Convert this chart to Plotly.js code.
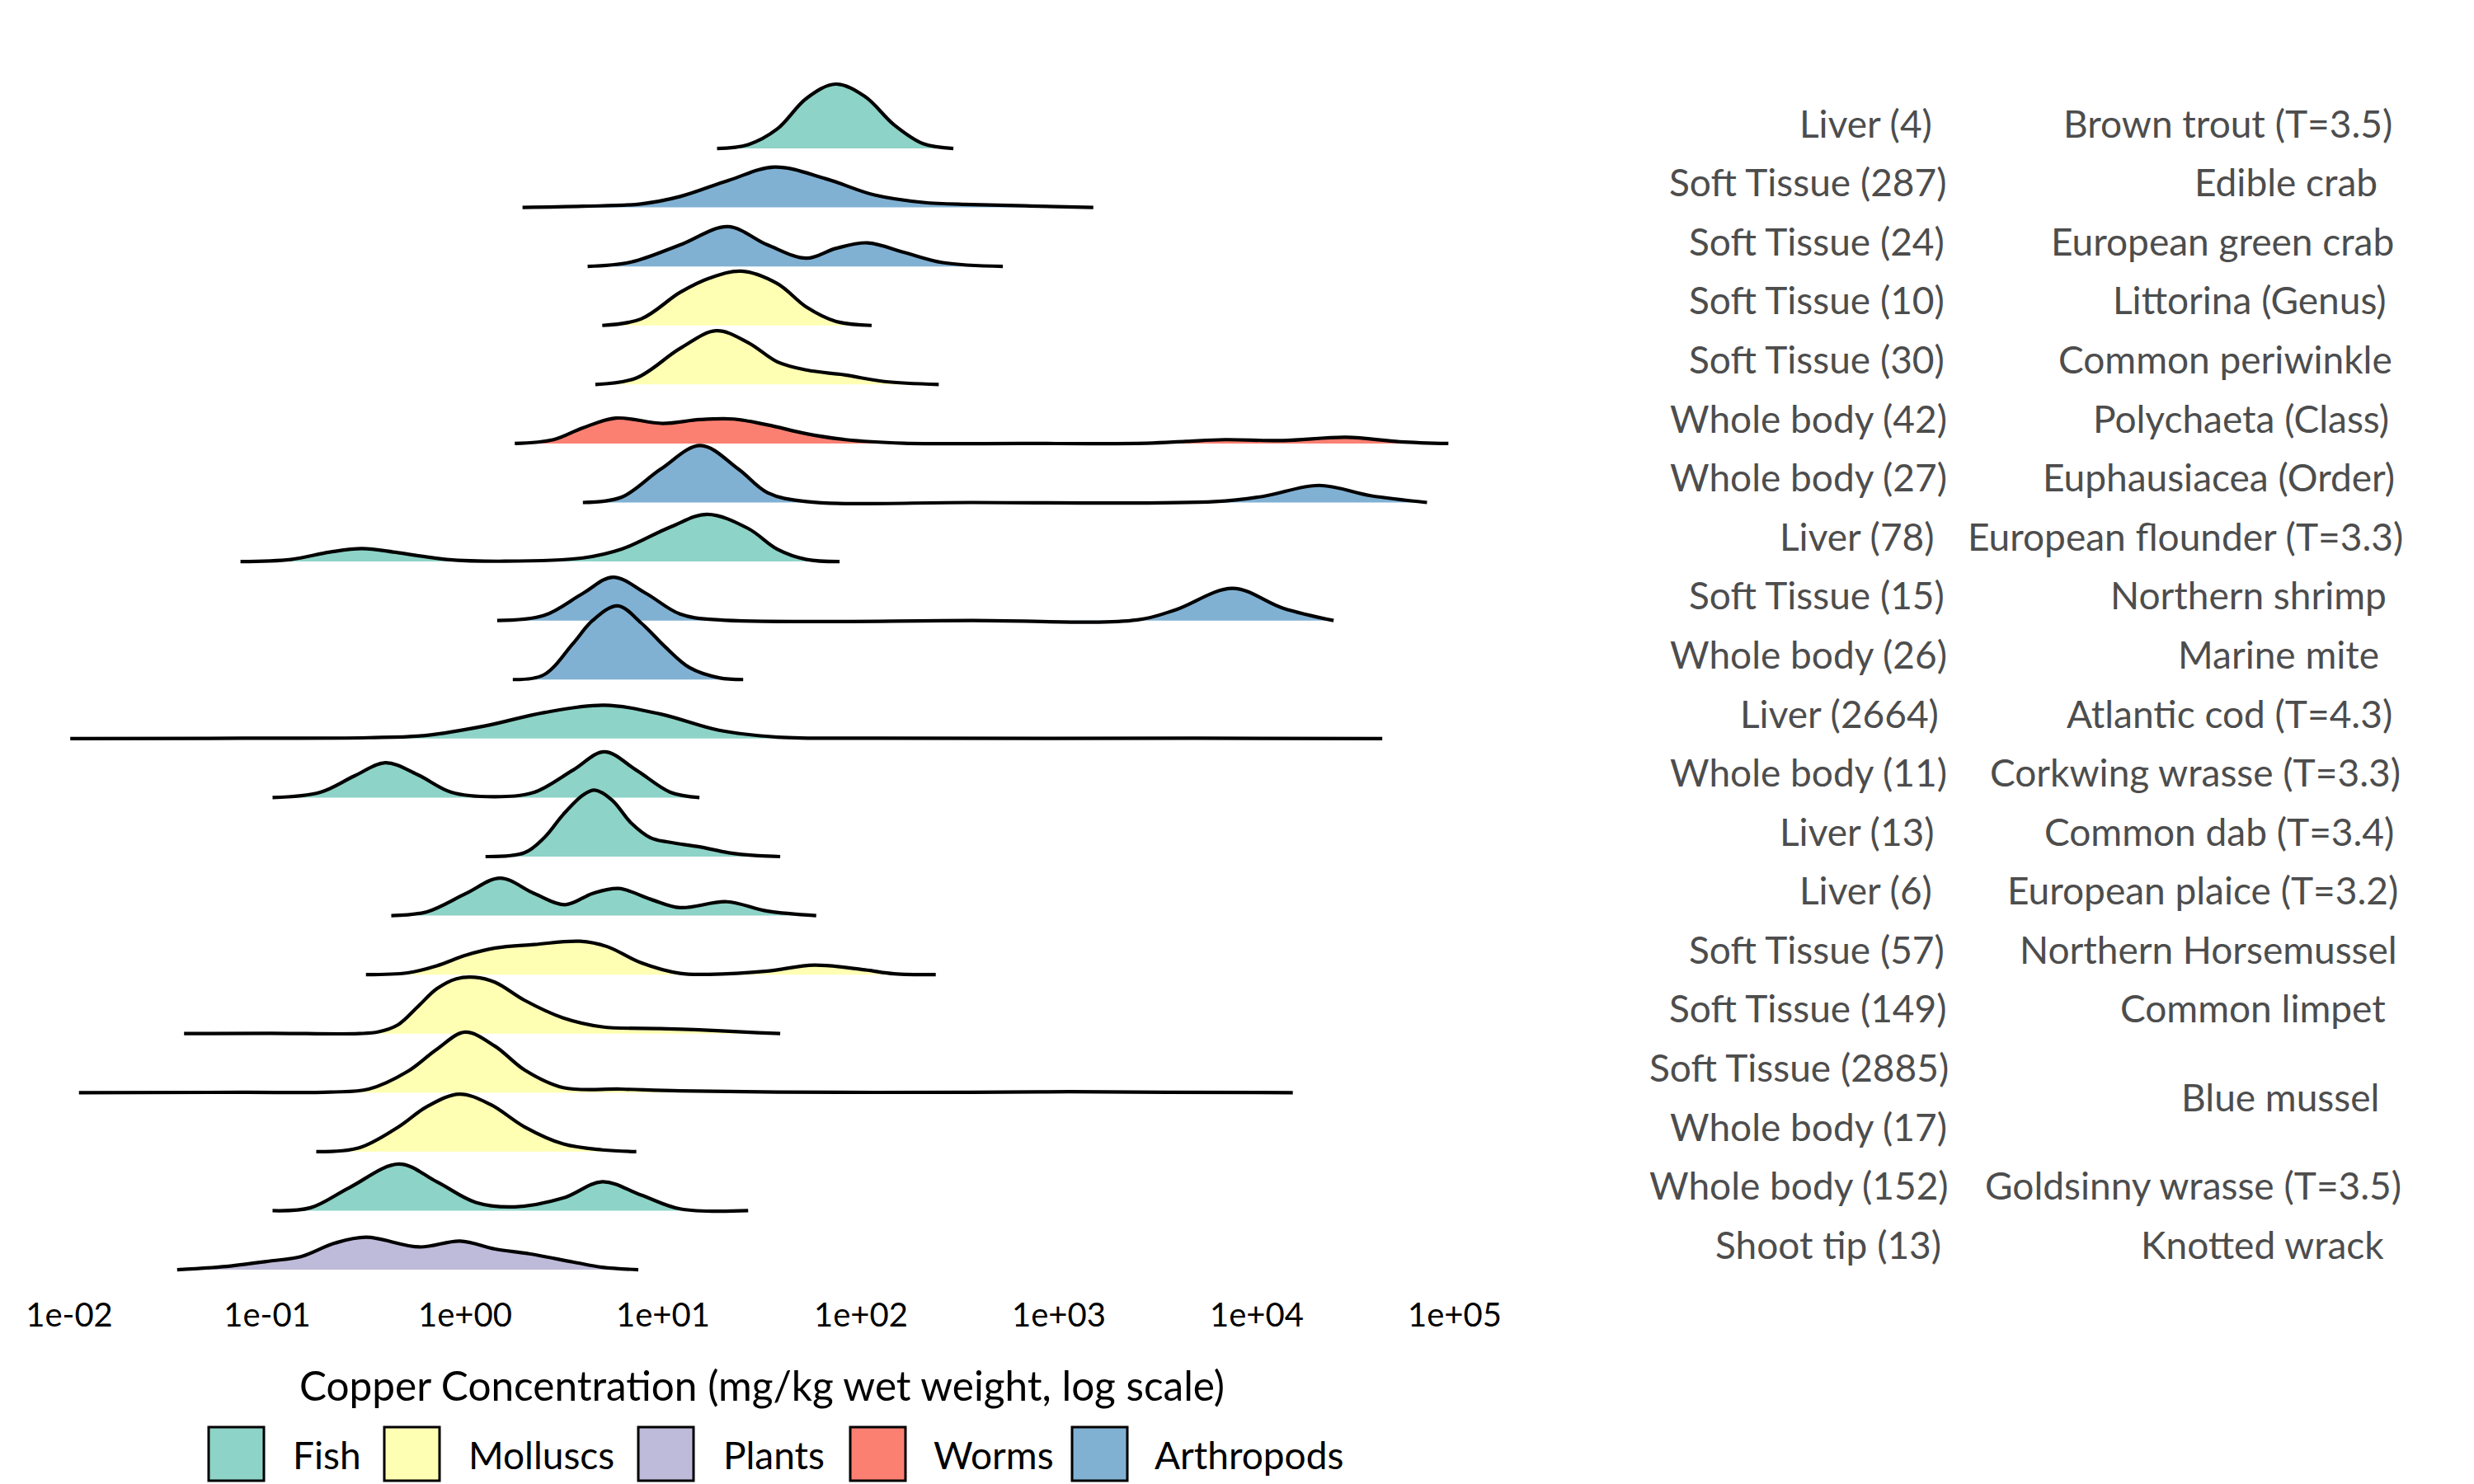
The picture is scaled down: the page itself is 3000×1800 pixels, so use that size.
<!DOCTYPE html>
<html><head><meta charset="utf-8">
<script src="https://cdn.plot.ly/plotly-3.0.1.min.js"></script>
<style>html,body{margin:0;padding:0;background:#fff;} #chart{width:3000px;height:1800px;}</style>
</head><body><div id="chart"></div>
<script>
// ---- categories ----
const groupNames = ["Fish", "Molluscs", "Plants", "Worms", "Arthropods"];
const groupColors = ["#8DD3C7", "#FFFFB3", "#BEBADA", "#FB8072", "#80B1D3"];

// rows, top to bottom
const tissueLabels = ["Liver (4)", "Soft Tissue (287)", "Soft Tissue (24)", "Soft Tissue (10)", "Soft Tissue (30)",
  "Whole body (42)", "Whole body (27)", "Liver (78)", "Soft Tissue (15)", "Whole body (26)",
  "Liver (2664)", "Whole body (11)", "Liver (13)", "Liver (6)", "Soft Tissue (57)",
  "Soft Tissue (149)", "Soft Tissue (2885)", "Whole body (17)", "Whole body (152)", "Shoot tip (13)"];
const speciesLabels = ["Brown trout (T=3.5)", "Edible crab", "European green crab", "Littorina (Genus)", "Common periwinkle",
  "Polychaeta (Class)", "Euphausiacea (Order)", "European flounder (T=3.3)", "Northern shrimp", "Marine mite",
  "Atlantic cod (T=4.3)", "Corkwing wrasse (T=3.3)", "Common dab (T=3.4)", "European plaice (T=3.2)", "Northern Horsemussel",
  "Common limpet", "Blue mussel", "Blue mussel", "Goldsinny wrasse (T=3.5)", "Knotted wrack"];
const rowGroups = ["Fish", "Arthropods", "Arthropods", "Molluscs", "Molluscs",
  "Worms", "Arthropods", "Fish", "Arthropods", "Arthropods",
  "Fish", "Fish", "Fish", "Fish", "Molluscs",
  "Molluscs", "Molluscs", "Molluscs", "Fish", "Plants"];

// ---- density curves: log10(copper mg/kg) and relative density (row-height units) ----
const brownTroutLog = [1.273, 1.430, 1.577, 1.725, 1.872, 2.020, 2.167, 2.314, 2.467];
const brownTroutDen = [0, 0.065, 0.33, 0.85, 1.09, 0.88, 0.40, 0.08, 0];

const edibleCrabLog = [0.290, 0.595, 0.889, 1.086, 1.332, 1.563, 1.823, 2.069, 2.314, 2.560, 2.855, 3.174];
const edibleCrabDen = [0, 0.02, 0.06, 0.185, 0.46, 0.685, 0.485, 0.21, 0.085, 0.05, 0.025, 0];

const greenCrabLog = [0.619, 0.840, 1.086, 1.327, 1.528, 1.725, 1.872, 2.034, 2.216, 2.413, 2.717];
const greenCrabDen = [0, 0.075, 0.365, 0.674, 0.365, 0.14, 0.305, 0.40, 0.24, 0.065, 0];

const littorinaLog = [0.693, 0.889, 1.086, 1.233, 1.396, 1.577, 1.725, 1.872, 2.054];
const littorinaDen = [0, 0.11, 0.56, 0.80, 0.92, 0.71, 0.31, 0.07, 0];

const periwinkleLog = [0.658, 0.865, 1.086, 1.268, 1.430, 1.577, 1.725, 1.921, 2.118, 2.393];
const periwinkleDen = [0, 0.11, 0.61, 0.91, 0.71, 0.385, 0.245, 0.16, 0.05, 0];

const polychaetaLog = [0.251, 0.447, 0.595, 0.762, 0.998, 1.184, 1.356, 1.528, 1.725, 1.921, 2.216, 2.806, 3.445, 3.641, 3.838, 4.133, 4.452, 4.722, 4.968];
const polychaetaDen = [0, 0.065, 0.265, 0.43, 0.34, 0.405, 0.415, 0.315, 0.165, 0.065, 0.005, 0, 0.005, 0.035, 0.065, 0.05, 0.105, 0.03, 0];

const euphausiaceaLog = [0.595, 0.791, 0.988, 1.189, 1.381, 1.528, 1.725, 2.560, 3.789, 4.034, 4.314, 4.575, 4.860];
const euphausiaceaDen = [0, 0.09, 0.565, 0.965, 0.565, 0.165, 0.015, 0, 0.015, 0.105, 0.29, 0.115, 0];

const flounderLog = [-1.135, -0.880, -0.683, -0.521, -0.339, -0.093, 0.201, 0.595, 0.791, 1.037, 1.224, 1.430, 1.577, 1.725, 1.892];
const flounderDen = [0, 0.035, 0.16, 0.22, 0.15, 0.035, 0.005, 0.06, 0.21, 0.585, 0.80, 0.56, 0.21, 0.035, 0];

const shrimpLog = [0.162, 0.398, 0.595, 0.747, 0.914, 1.086, 1.283, 2.560, 3.396, 3.592, 3.877, 4.133, 4.388];
const shrimpDen = [0, 0.085, 0.46, 0.735, 0.46, 0.11, 0.01, 0, 0.01, 0.185, 0.545, 0.21, 0];

const marineMiteLog = [0.241, 0.398, 0.545, 0.644, 0.771, 0.889, 1.012, 1.135, 1.283, 1.405];
const marineMiteDen = [0, 0.08, 0.61, 1.0, 1.248, 0.96, 0.55, 0.2, 0.03, 0];

const codLog = [-1.995, -1.125, -0.486, -0.192, 0.103, 0.398, 0.703, 0.988, 1.283, 1.577, 2.069, 3.690, 4.634];
const codDen = [0, 0.005, 0.015, 0.055, 0.215, 0.44, 0.565, 0.415, 0.14, 0.025, 0.005, 0.005, 0];

const corkwingLog = [-0.973, -0.732, -0.560, -0.403, -0.241, -0.069, 0.152, 0.349, 0.545, 0.703, 0.865, 1.037, 1.184];
const corkwingDen = [0, 0.09, 0.365, 0.59, 0.39, 0.09, 0.015, 0.09, 0.465, 0.775, 0.465, 0.09, 0];

const dabLog = [0.103, 0.300, 0.398, 0.496, 0.595, 0.654, 0.742, 0.840, 0.939, 1.037, 1.184, 1.332, 1.479, 1.592];
const dabDen = [0, 0.065, 0.315, 0.715, 1.04, 1.125, 0.96, 0.565, 0.315, 0.24, 0.165, 0.065, 0.015, 0];

const plaiceLog = [-0.373, -0.192, 0.005, 0.177, 0.349, 0.506, 0.644, 0.776, 0.939, 1.086, 1.322, 1.528, 1.774];
const plaiceDen = [0, 0.065, 0.375, 0.635, 0.375, 0.185, 0.375, 0.46, 0.275, 0.135, 0.235, 0.075, 0];

const horsemusselLog = [-0.501, -0.290, -0.143, 0.005, 0.152, 0.349, 0.580, 0.717, 0.889, 1.086, 1.233, 1.528, 1.764, 2.020, 2.167, 2.378];
const horsemusselDen = [0, 0.03, 0.15, 0.33, 0.45, 0.51, 0.565, 0.475, 0.2, 0.02, 0.005, 0.06, 0.16, 0.08, 0.015, 0];

const limpetLog = [-1.420, -0.978, -0.536, -0.437, -0.339, -0.241, -0.143, -0.044, 0.049, 0.152, 0.300, 0.496, 0.693, 0.988, 1.184, 1.479, 1.592];
const limpetDen = [0, 0.005, 0, 0.03, 0.15, 0.45, 0.76, 0.93, 0.955, 0.87, 0.565, 0.265, 0.115, 0.085, 0.065, 0.015, 0];

const musselSoftLog = [-1.951, -1.125, -0.683, -0.487, -0.290, -0.143, 0.0, 0.152, 0.300, 0.496, 0.791, 1.086, 1.577, 2.560, 3.052, 3.543, 4.182];
const musselSoftDen = [0, 0.005, 0.01, 0.06, 0.36, 0.735, 1.025, 0.785, 0.385, 0.085, 0.06, 0.03, 0.01, 0.005, 0.015, 0.005, 0];

const musselWholeLog = [-0.752, -0.536, -0.339, -0.192, -0.029, 0.128, 0.300, 0.496, 0.693, 0.865];
const musselWholeDen = [0, 0.065, 0.415, 0.765, 0.975, 0.80, 0.42, 0.13, 0.03, 0];

const goldsinnyLog = [-0.973, -0.781, -0.585, -0.334, -0.143, 0.054, 0.251, 0.496, 0.693, 0.889, 1.086, 1.430];
const goldsinnyDen = [0, 0.05, 0.39, 0.79, 0.49, 0.14, 0.065, 0.215, 0.49, 0.265, 0.03, 0];

const wrackLog = [-1.455, -1.224, -0.978, -0.830, -0.658, -0.501, -0.231, -0.025, 0.152, 0.324, 0.545, 0.693, 0.875];
const wrackDen = [0, 0.05, 0.15, 0.22, 0.45, 0.55, 0.385, 0.485, 0.35, 0.27, 0.13, 0.04, 0];

const rowLog = [brownTroutLog, edibleCrabLog, greenCrabLog, littorinaLog, periwinkleLog, polychaetaLog, euphausiaceaLog,
  flounderLog, shrimpLog, marineMiteLog, codLog, corkwingLog, dabLog, plaiceLog, horsemusselLog, limpetLog,
  musselSoftLog, musselWholeLog, goldsinnyLog, wrackLog];
const rowDen = [brownTroutDen, edibleCrabDen, greenCrabDen, littorinaDen, periwinkleDen, polychaetaDen, euphausiaceaDen,
  flounderDen, shrimpDen, marineMiteDen, codDen, corkwingDen, dabDen, plaiceDen, horsemusselDen, limpetDen,
  musselSoftDen, musselWholeDen, goldsinnyDen, wrackDen];

// ---- axis ticks ----
const tickValues = [-2, -1, 0, 1, 2, 3, 4, 5];
const tickLabels = ["1e-02", "1e-01", "1e+00", "1e+01", "1e+02", "1e+03", "1e+04", "1e+05"];

// ---- build ----
const FONT = "Lato, 'Open Sans', sans-serif";
const LABEL_SIZE = 46;
const nRows = tissueLabels.length;
const traces = [];
for (let i = 0; i < nRows; i++) {
  const base = nRows - 1 - i;
  const xs = rowLog[i];
  const color = groupColors[groupNames.indexOf(rowGroups[i])];
  traces.push({
    type: "scatter", mode: "lines", x: [xs[0], xs[xs.length - 1]], y: [base, base],
    line: {width: 0, color: "rgba(0,0,0,0)"}, hoverinfo: "skip", showlegend: false
  });
  traces.push({
    type: "scatter", mode: "lines", x: xs, y: rowDen[i].map(h => base + h),
    line: {color: "#000000", width: 4.2, shape: "spline", smoothing: 1},
    fill: "tonexty", fillcolor: color, name: speciesLabels[i] + " – " + tissueLabels[i], showlegend: false
  });
}

// plot area geometry (px)
const PL = 12, PR = 1836, PT = 30, PB = 1560;
const pxX = px => (px - PL) / (PR - PL);
const pxY = py => (PB - py) / (PB - PT);

// text width measurement for hjust = 0.9 style alignment
const cnv = document.createElement("canvas").getContext("2d");
cnv.font = LABEL_SIZE + "px Lato";
const textW = t => cnv.measureText(t).width;
const HJUST = 0.9;

const annotations = [];
const shapes = [];
const LABEL_OFF = 0.43;
for (let i = 0; i < nRows; i++) {
  const base = nRows - 1 - i;
  annotations.push({xref: "paper", yref: "y", x: pxX(2329), y: base + LABEL_OFF, xanchor: "right", yanchor: "middle",
    xshift: (1 - HJUST) * textW(tissueLabels[i]),
    text: tissueLabels[i], showarrow: false, font: {family: FONT, size: LABEL_SIZE, color: "#4D4D4D"}});
}
// species labels: merge consecutive identical species
for (let i = 0; i < nRows; ) {
  let j = i;
  while (j + 1 < nRows && speciesLabels[j + 1] === speciesLabels[i]) j++;
  const yMid = ((nRows - 1 - i) + (nRows - 1 - j)) / 2 + LABEL_OFF;
  annotations.push({xref: "paper", yref: "y", x: pxX(2863), y: yMid, xanchor: "right", yanchor: "middle",
    xshift: (1 - HJUST) * textW(speciesLabels[i]),
    text: speciesLabels[i], showarrow: false, font: {family: FONT, size: LABEL_SIZE, color: "#4D4D4D"}});
  i = j + 1;
}
// legend
const legBoxLeft = [253, 466, 774, 1031, 1300];
const legTextLeft = [353, 566, 875, 1130, 1398];
for (let k = 0; k < groupNames.length; k++) {
  shapes.push({type: "rect", xref: "paper", yref: "paper", x0: pxX(legBoxLeft[k]), x1: pxX(legBoxLeft[k] + 67),
    y0: pxY(1796), y1: pxY(1731), fillcolor: groupColors[k], line: {color: "#000000", width: 3}});
  annotations.push({xref: "paper", yref: "paper", x: pxX(legTextLeft[k]), y: pxY(1764), xanchor: "left", yanchor: "middle",
    text: groupNames[k], showarrow: false, font: {family: FONT, size: 46, color: "#000000"}});
}

const layout = {
  width: 3000, height: 1800,
  margin: {l: PL, r: 3000 - PR, t: PT, b: 1800 - PB, pad: 0},
  paper_bgcolor: "#ffffff", plot_bgcolor: "#ffffff",
  showlegend: false,
  font: {family: FONT, color: "#000000"},
  xaxis: {
    range: [-2.3, 5.3], tickvals: tickValues, ticktext: tickLabels, ticks: "",
    ticklabelstandoff: 8,
    showgrid: false, zeroline: false, showline: false,
    tickfont: {family: FONT, size: 40, color: "#000000"},
    title: {text: "Copper Concentration (mg/kg wet weight, log scale)", font: {family: FONT, size: 49.5, color: "#000000"}, standoff: 47}
  },
  yaxis: {
    range: [-0.279, 21.096], showgrid: false, zeroline: false, showline: false, showticklabels: false, ticks: ""
  },
  annotations: annotations,
  shapes: shapes
};

Plotly.newPlot("chart", traces, layout, {staticPlot: true, displayModeBar: false});
</script>
</body></html>
